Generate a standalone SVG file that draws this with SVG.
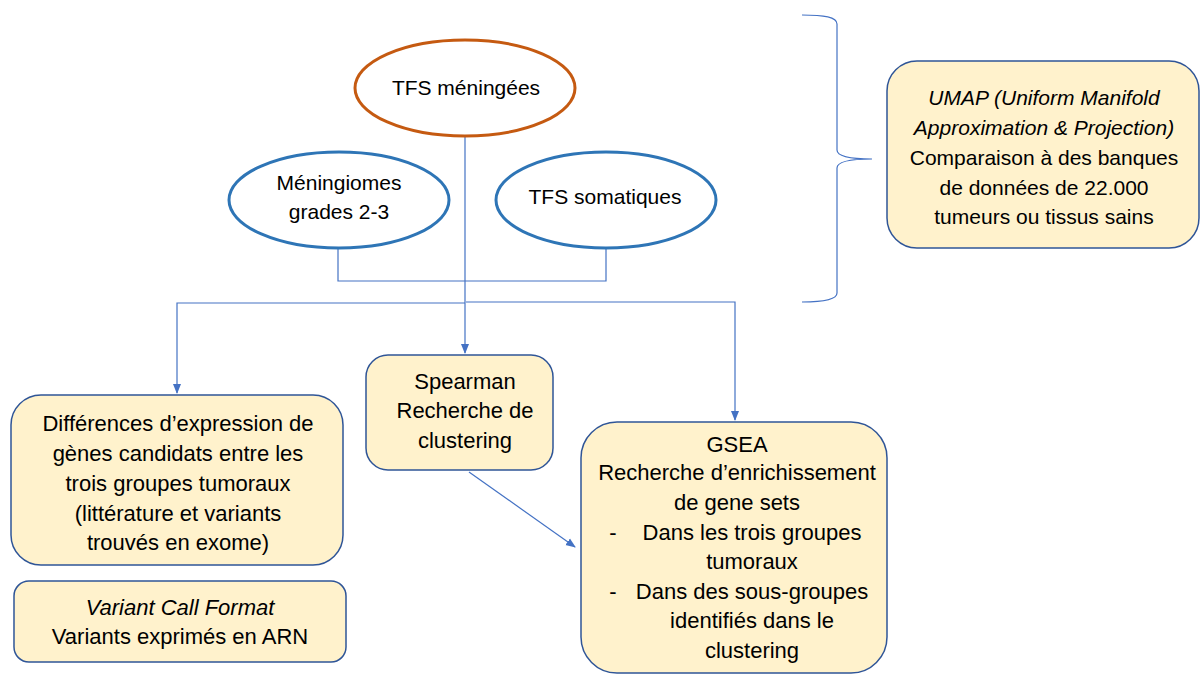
<svg xmlns="http://www.w3.org/2000/svg" width="1200" height="675" viewBox="0 0 1200 675">
<style>
text{font-family:"Liberation Sans",Arial,sans-serif;fill:#000;text-anchor:middle}
.t21{font-size:21px}
.t22{font-size:22px}
.it{font-style:italic}
.box{fill:#FFF2CC;stroke:#2F5597;stroke-width:1.5}
.ell{fill:#fff;stroke:#2E75B6;stroke-width:3}
.ello{fill:#fff;stroke:#C55A11;stroke-width:3}
.ln{fill:none;stroke:#4472C4;stroke-width:1.2}
</style>
<defs>
<marker id="ah" markerWidth="10" markerHeight="10" refX="9" refY="5" orient="auto" markerUnits="userSpaceOnUse">
<path d="M0,1 L10,5 L0,9 Z" fill="#4472C4"/>
</marker>
</defs>
<rect width="1200" height="675" fill="#fff"/>
<g id="connectors">
<path class="ln" d="M465,137 V303"/>
<path class="ln" d="M338,248 V281 H606 V248"/>
<path class="ln" d="M465,303 H177 V393" marker-end="url(#ah)"/>
<path class="ln" d="M465,303 V353" marker-end="url(#ah)"/>
<path class="ln" d="M466,302 H735 V420" marker-end="url(#ah)"/>
<path class="ln" d="M469,472 L575,547" marker-end="url(#ah)"/>
<path class="ln" d="M802,15 C824,15 837,17 837,24 L837,150 C837,156 850,159 872,159 C850,159 837,162 837,168 L837,293 C837,299 824,302 802,302"/>
</g>
<g id="n-tfs-meningees">
<ellipse class="ello" cx="465" cy="88" rx="110" ry="48"/>
<text class="t21" x="466" y="95">TFS méningées</text>
</g>
<g id="n-meningiomes">
<ellipse class="ell" cx="339" cy="200" rx="110" ry="48"/>
<text class="t21" x="339" y="190">Méningiomes</text>
<text class="t21" x="339" y="219">grades 2-3</text>
</g>
<g id="n-tfs-somatiques">
<ellipse class="ell" cx="606" cy="200" rx="110" ry="48"/>
<text class="t21" x="605" y="204">TFS somatiques</text>
</g>
<g id="n-umap">
<rect class="box" x="887" y="61" width="312" height="187" rx="30"/>
<text class="t21 it" x="1044" y="105">UMAP (Uniform Manifold</text>
<text class="t21 it" x="1044" y="135">Approximation &amp; Projection)</text>
<text class="t21" x="1044" y="165">Comparaison à des banques</text>
<text class="t21" x="1044" y="195">de données de 22.000</text>
<text class="t21" x="1044" y="224">tumeurs ou tissus sains</text>
</g>
<g id="n-differences">
<rect class="box" x="11" y="395" width="332" height="170" rx="30"/>
<text class="t22" x="178" y="431">Différences d’expression de</text>
<text class="t22" x="178" y="461">gènes candidats entre les</text>
<text class="t22" x="178" y="491">trois groupes tumoraux</text>
<text class="t22" x="178" y="521">(littérature et variants</text>
<text class="t22" x="178" y="550">trouvés en exome)</text>
</g>
<g id="n-spearman">
<rect class="box" x="366" y="355" width="187" height="115" rx="22"/>
<text class="t22" x="465" y="389">Spearman</text>
<text class="t22" x="465" y="418">Recherche de</text>
<text class="t22" x="465" y="448">clustering</text>
</g>
<g id="n-variant">
<rect class="box" x="14" y="581" width="332" height="81" rx="15"/>
<text class="t22 it" x="180" y="615">Variant Call Format</text>
<text class="t22" x="180" y="644">Variants exprimés en ARN</text>
</g>
<g id="n-gsea">
<rect class="box" x="581" y="422" width="306" height="251" rx="36"/>
<text class="t22" x="737" y="452">GSEA</text>
<text class="t22" x="737" y="480">Recherche d’enrichissement</text>
<text class="t22" x="737" y="510">de gene sets</text>
<text class="t22" x="613" y="540">-</text>
<text class="t22" x="752" y="540">Dans les trois groupes</text>
<text class="t22" x="752" y="569">tumoraux</text>
<text class="t22" x="613" y="599">-</text>
<text class="t22" x="752" y="599">Dans des sous-groupes</text>
<text class="t22" x="752" y="628">identifiés dans le</text>
<text class="t22" x="752" y="658">clustering</text>
</g>
</svg>
